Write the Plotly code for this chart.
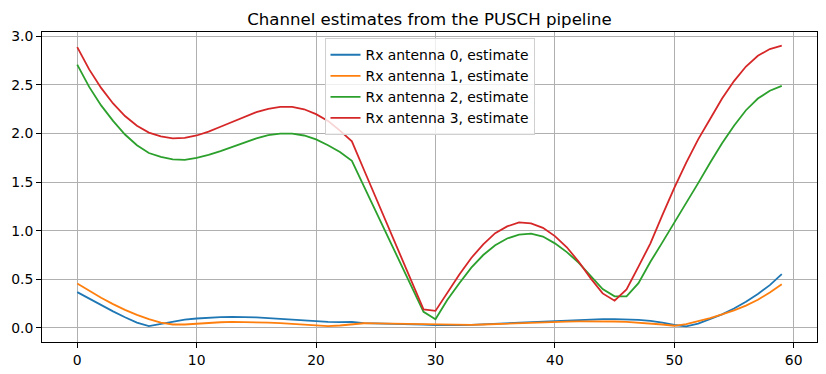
import plotly.graph_objects as go

x_idx = list(range(60))

ant0 = [0.368, 0.30, 0.235, 0.17, 0.11, 0.055, 0.018, 0.04, 0.065, 0.085,
        0.097, 0.105, 0.11, 0.113, 0.112, 0.108, 0.10, 0.092, 0.085, 0.077,
        0.07, 0.063, 0.06, 0.062, 0.05, 0.048, 0.045, 0.042, 0.038, 0.033,
        0.028, 0.026, 0.028, 0.032, 0.037, 0.043, 0.05, 0.056, 0.062, 0.068,
        0.074, 0.08, 0.085, 0.088, 0.09, 0.09, 0.088, 0.083, 0.072, 0.055,
        0.03, 0.015, 0.045, 0.09, 0.14, 0.20, 0.27, 0.35, 0.44, 0.553]

ant1 = [0.457, 0.38, 0.31, 0.245, 0.185, 0.135, 0.09, 0.055, 0.035, 0.035,
        0.045, 0.053, 0.058, 0.062, 0.062, 0.06, 0.055, 0.05, 0.042, 0.035,
        0.025, 0.018, 0.025, 0.035, 0.048, 0.047, 0.045, 0.043, 0.04, 0.036,
        0.032, 0.028, 0.028, 0.031, 0.035, 0.04, 0.045, 0.05, 0.054, 0.058,
        0.062, 0.065, 0.067, 0.068, 0.068, 0.066, 0.062, 0.055, 0.047, 0.035,
        0.022, 0.04, 0.07, 0.10, 0.14, 0.18, 0.23, 0.29, 0.365, 0.45]

ant2 = [2.71, 2.48, 2.29, 2.13, 1.99, 1.88, 1.80, 1.76, 1.735, 1.73,
        1.75, 1.78, 1.82, 1.865, 1.91, 1.95, 1.985, 2.0, 2.0, 1.98,
        1.94, 1.88, 1.81, 1.72, 1.46, 1.20, 0.94, 0.68, 0.42, 0.165,
        0.09, 0.29, 0.46, 0.62, 0.75, 0.85, 0.92, 0.96, 0.97, 0.94,
        0.87, 0.78, 0.67, 0.54, 0.40, 0.325, 0.325, 0.46, 0.68, 0.88,
        1.08, 1.28, 1.49, 1.70, 1.90, 2.08, 2.24, 2.36, 2.44, 2.49]

ant3 = [2.89, 2.66, 2.47, 2.31, 2.18, 2.08, 2.01, 1.97, 1.95, 1.955,
        1.98, 2.02, 2.07, 2.12, 2.17, 2.22, 2.255, 2.275, 2.275, 2.25,
        2.20, 2.13, 2.03, 1.92, 1.63, 1.34, 1.05, 0.76, 0.47, 0.19,
        0.175, 0.36, 0.55, 0.72, 0.86, 0.975, 1.045, 1.085, 1.075, 1.03,
        0.945, 0.83, 0.68, 0.51, 0.355, 0.28, 0.395, 0.63, 0.87, 1.16,
        1.44, 1.70, 1.94, 2.15, 2.36, 2.54, 2.69, 2.80, 2.87, 2.905]

series = [ant0, ant1, ant2, ant3]
names = ["Rx antenna 0, estimate", "Rx antenna 1, estimate",
         "Rx antenna 2, estimate", "Rx antenna 3, estimate"]
colors = ["#1f77b4", "#ff7f0e", "#2ca02c", "#d62728"]

x_ticks = [0, 10, 20, 30, 40, 50, 60]
y_ticks = [0.0, 0.5, 1.0, 1.5, 2.0, 2.5, 3.0]

fig = go.Figure()
for vals, name, col in zip(series, names, colors):
    fig.add_trace(go.Scatter(x=x_idx, y=vals, mode="lines", name=name,
                             line=dict(color=col, width=1.8)))

axis_common = dict(showline=True, linecolor="black", linewidth=1, mirror=True,
                   showgrid=True, gridcolor="#b0b0b0", gridwidth=0.8,
                   ticks="outside", ticklen=5, tickcolor="black", tickwidth=1,
                   zeroline=False, automargin=False,
                   tickfont=dict(size=13.9, color="black"))

fig.update_layout(
    width=826, height=374,
    margin=dict(l=42, r=9, t=32, b=32),
    paper_bgcolor="white", plot_bgcolor="white",
    font=dict(family="DejaVu Sans", size=13.9, color="black"),
    title=dict(text="Channel estimates from the PUSCH pipeline",
               x=0.5, xref="paper", xanchor="center",
               y=1 - 19 / 374, yref="container", yanchor="middle",
               font=dict(size=16.6, color="black")),
    xaxis=dict(range=[-2.95, 61.95], tickvals=x_ticks,
               ticktext=[str(v) for v in x_ticks], **axis_common),
    yaxis=dict(range=[-0.145, 3.045], tickvals=y_ticks,
               ticktext=[f"{v:.1f}" for v in y_ticks], **axis_common),
    legend=dict(x=0.5, xanchor="center", y=0.98, yanchor="top",
                bgcolor="rgba(255,255,255,0.8)", bordercolor="#d0d0d0",
                borderwidth=1, font=dict(size=13.9), tracegroupgap=0,
                itemwidth=30),
    showlegend=True,
)

fig.write_html("out.html",
               config={"displayModeBar": False},
               post_script="document.body.style.margin='0';document.body.style.overflow='hidden';")
